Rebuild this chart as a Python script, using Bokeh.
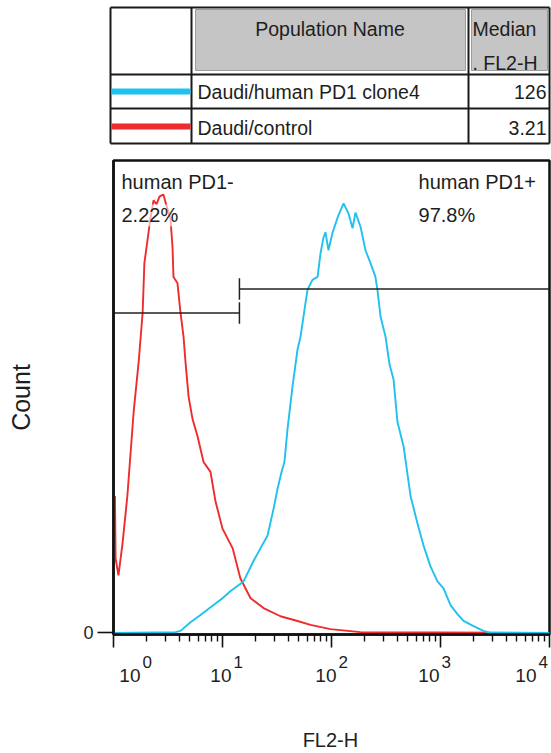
from bokeh.plotting import figure
from bokeh.models import Range1d, FixedTicker, CustomJSTickFormatter, Label
from bokeh.embed import file_html
from bokeh.resources import INLINE
from bokeh.core.properties import value

# ---------------- data ----------------
population_names = ["Daudi/human PD1 clone4", "Daudi/control"]
median_fl2h = ["126", "3.21"]
series_colors = ["#1fc1ee", "#ef2b2b"]

red_fl2 = [1.032, 1.045, 1.11, 1.21, 1.34, 1.53, 1.70, 1.85, 1.92, 2.05,
           2.18, 2.33, 2.48, 2.64, 2.87, 3.06, 3.33, 3.48, 3.55, 3.86,
           4.12, 4.39, 4.58, 4.88, 5.31, 5.90, 6.70, 7.76, 8.63, 10.0,
           12.4, 14.6, 18.1, 23.8, 34.0, 48.8, 64.1, 97.9, 184, 10000]
red_count = [31.9, 17.4, 13.4, 20.8, 31.9, 51.4, 63.0, 74.5, 86.1, 91.4,
             96.5, 100.7, 99.8, 101.6, 102.1, 99.5, 96.5, 89.8, 82.9, 81.5,
             74.5, 69.0, 63.0, 55.1, 49.8, 45.8, 39.8, 37.5, 30.6, 24.3,
             19.7, 12.7, 8.1, 5.8, 3.9, 2.8, 1.9, 0.9, 0.2, 0]

blue_fl2 = [1.0, 3.71, 4.12, 5.09, 6.28, 8.27, 10.0, 11.8, 15.6, 19.2,
            22.3, 25.9, 29.4, 32.0, 34.8, 37.0, 39.5, 43.9, 48.8, 52.0,
            56.5, 60.2, 66.9, 74.5, 79.3, 84.5, 88.1, 93.8, 102, 114,
            129, 143, 156, 166, 185, 205, 228, 253, 264, 282,
            313, 341, 371, 403, 458, 531, 615, 698, 809, 938,
            1066, 1236, 1432, 1626, 2009, 2479, 2876, 10000]
blue_count = [0, 0.2, 0.5, 2.5, 4.2, 6.5, 8.1, 9.7, 12.0, 16.7,
              19.7, 22.7, 28.9, 33.6, 37.5, 39.8, 47.5, 57.4, 66.0, 69.0,
              75.2, 79.9, 82.2, 82.9, 88.4, 92.1, 93.3, 89.1, 93.1, 96.8,
              100, 97.7, 94.2, 97.9, 94.5, 89.1, 86.1, 82.9, 79.9, 73.6,
              69.0, 62.5, 59.0, 49.1, 43.5, 31.9, 25.5, 20.4, 15.5, 12.0,
              10.4, 6.5, 4.4, 2.8, 1.6, 0.5, 0, 0]

gate_names = ["human PD1-", "human PD1+"]
gate_percents = ["2.22%", "97.8%"]
gate_split = 14.3           # FL2-H boundary between the two gates
gate_levels = [74.5, 80.1]  # count level at which each gate bar is drawn
x_min, x_max = 1, 10000

major_ticks = [1, 10, 100, 1000, 10000]
tick_exponents = ["0", "1", "2", "3", "4"]

FNAME = "Liberation Sans"
FONT = value(FNAME)
TXT = "#1e1e1e"
W = 551

# ---------------- table (legend) ----------------
TH = 146
t = figure(width=W, height=TH, x_range=Range1d(0, W), y_range=Range1d(TH, 0),
           output_backend="svg", toolbar_location=None, min_border=0,
           x_axis_location=None, y_axis_location=None)
t.grid.visible = False
t.outline_line_color = None

L, C1, C2, R = 110, 191, 468, 549
T, H, R1, B = 7, 74, 108, 143

t.quad(left=[C1 + 4, C2 + 3], right=[C2 - 3, R - 2], top=[T + 2, T + 2], bottom=[H - 4, H - 4],
       fill_color="#c5c5c5", line_color="#9c9c9c", line_width=1)
t.segment(x0=[L] * 4, x1=[R] * 4, y0=[T, H, R1, B], y1=[T, H, R1, B],
          line_color="#1a1a1a", line_width=2)
t.segment(x0=[L, C1, C2, R], x1=[L, C1, C2, R], y0=[T] * 4, y1=[B] * 4,
          line_color="#1a1a1a", line_width=2)
row_y = [91, 126]
t.segment(x0=[L + 1] * 2, x1=[C1 - 1] * 2, y0=row_y, y1=row_y,
          line_color=series_colors, line_width=6)
t.text(x=[(C1 + C2) / 2], y=[28], text=["Population Name"], text_align="center",
       text_baseline="middle", text_font=FONT, text_font_size="19.5px", text_color=TXT)
t.text(x=[C2 + 4, C2 + 4], y=[28, 62], text=["Median", ". FL2-H"], text_align="left",
       text_baseline="middle", text_font=FONT, text_font_size="19.5px", text_color=TXT)
t.text(x=[C1 + 6] * 2, y=[row_y[0], row_y[1] + 1], text=population_names, text_align="left",
       text_baseline="middle", text_font=FONT, text_font_size="19.5px", text_color=TXT)
t.text(x=[R - 3] * 2, y=[row_y[0], row_y[1] + 1], text=median_fl2h, text_align="right",
       text_baseline="middle", text_font=FONT, text_font_size="19.5px", text_color=TXT)

# ---------------- histogram ----------------
p = figure(width=W, height=503, x_axis_type="log",
           x_range=Range1d(x_min, x_max), y_range=Range1d(-0.35, 110),
           output_backend="svg", toolbar_location=None,
           min_border_left=113, min_border_right=2, min_border_top=14, min_border_bottom=15)
p.grid.visible = False
p.outline_line_color = "#111111"
p.outline_line_width = 2.5

p.line(red_fl2, red_count, line_color=series_colors[1], line_width=1.9)
p.line(blue_fl2, blue_count, line_color=series_colors[0], line_width=1.9)

tick_half = 2.5
p.segment(x0=[x_min, gate_split], x1=[gate_split, x_max], y0=gate_levels, y1=gate_levels,
          line_color="#222222", line_width=1.5)
p.segment(x0=[gate_split, gate_split], x1=[gate_split, gate_split],
          y0=[gate_levels[0] - tick_half, gate_levels[1] - tick_half],
          y1=[gate_levels[0] + tick_half, gate_levels[1] + tick_half],
          line_color="#222222", line_width=1.5)

gate_label_x = [x_min, 629]
gate_label_off = [8, 0]
for gx, go, nm, pc in zip(gate_label_x, gate_label_off, gate_names, gate_percents):
    for yy, tx in ((104.9, nm), (97.2, pc)):
        p.add_layout(Label(x=gx, y=yy, x_offset=go, text=tx, text_align="left",
                           text_baseline="middle", text_font=FNAME, text_font_size="20px",
                           text_color=TXT, background_fill_color="white",
                           background_fill_alpha=0.6))

xa = p.xaxis[0]
xa.ticker = FixedTicker(ticks=major_ticks,
                        minor_ticks=[m * d for d in major_ticks[:-1] for m in range(2, 10)])
xa.formatter = CustomJSTickFormatter(code="return ''")
xa.major_label_text_font_size = "1px"
xa.major_label_standoff = 0
xa.major_tick_in = 0
xa.major_tick_out = 13
xa.minor_tick_in = 0
xa.minor_tick_out = 7
xa.axis_line_width = 2.5
xa.axis_line_color = "#111111"
xa.major_tick_line_width = 1.6
xa.major_tick_line_color = "#111111"
xa.minor_tick_line_width = 1.4
xa.minor_tick_line_color = "#111111"

ya = p.yaxis[0]
ya.ticker = FixedTicker(ticks=[0], minor_ticks=[])
ya.major_tick_in = 0
ya.major_tick_out = 16
ya.minor_tick_out = 0
ya.axis_line_width = 2.5
ya.axis_line_color = "#111111"
ya.major_tick_line_width = 1.6
ya.major_tick_line_color = "#111111"
ya.major_label_standoff = 4
ya.major_label_text_font = FNAME
ya.major_label_text_font_size = "18px"
ya.major_label_text_color = TXT
ya.axis_label = "Count"
ya.axis_label_text_font = FNAME
ya.axis_label_text_font_size = "25px"
ya.axis_label_text_font_style = "normal"
ya.axis_label_text_color = TXT
ya.axis_label_standoff = 45

# ---------------- x tick labels + axis title strip ----------------
LH = 104
lab = figure(width=W, height=LH, x_axis_type="log", x_range=p.x_range,
             y_range=Range1d(LH, 0), output_backend="svg", toolbar_location=None,
             min_border_left=113, min_border_right=2, min_border_top=0, min_border_bottom=0,
             x_axis_location=None, y_axis_location=None)
lab.grid.visible = False
lab.outline_line_color = None

ten_right_offsets = [27, 9, 5, -1, -13]
lab.text(x=major_ticks, y=[26] * 5, text=["10"] * 5, x_offset=ten_right_offsets,
         text_align="right", text_baseline="middle", text_font=FONT,
         text_font_size="19px", text_color=TXT)
lab.text(x=major_ticks, y=[12.5] * 5, text=tick_exponents,
         x_offset=[o + 2 for o in ten_right_offsets],
         text_align="left", text_baseline="middle", text_font=FONT,
         text_font_size="17px", text_color=TXT)
lab.text(x=[10 ** 1.99], y=[90], text=["FL2-H"], text_align="center",
         text_baseline="middle", text_font=FONT, text_font_size="20px", text_color=TXT)

open("out.html", "w").write(file_html([t, p, lab], INLINE))
